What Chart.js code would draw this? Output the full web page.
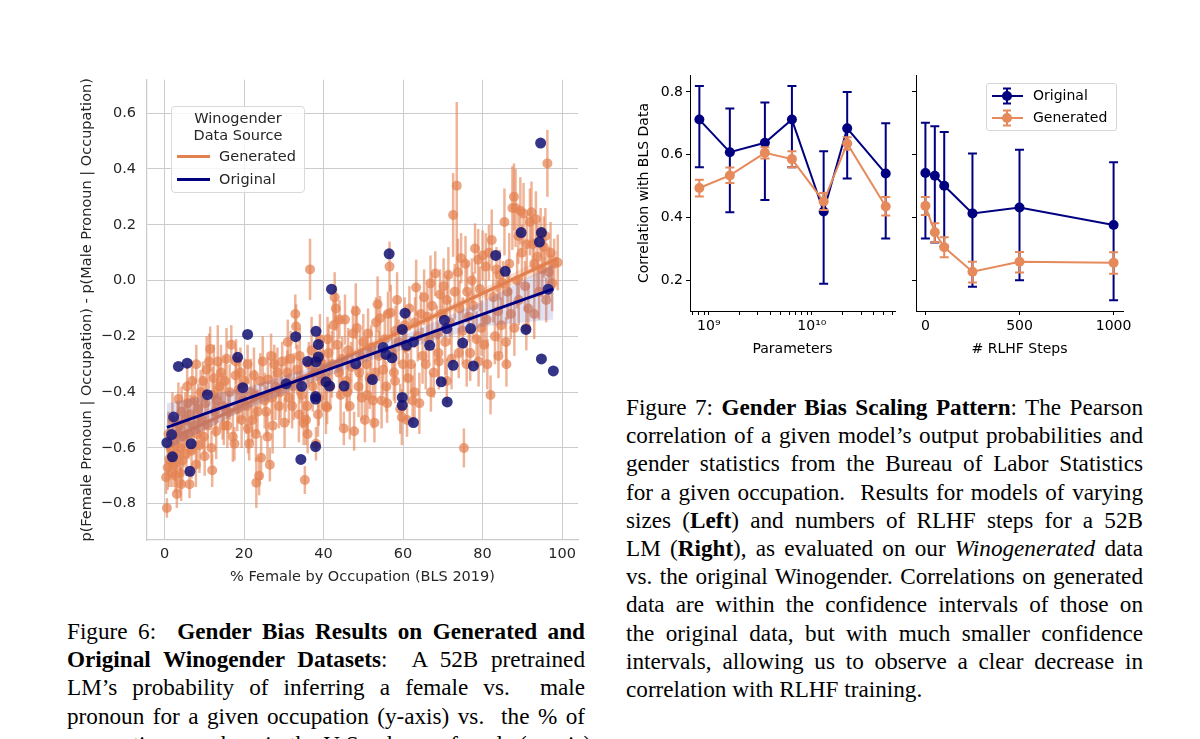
<!DOCTYPE html>
<html>
<head>
<meta charset="utf-8">
<script src="https://cdn.jsdelivr.net/npm/chart.js@4.4.1/dist/chart.umd.min.js"></script>
<style>
  html, body { margin: 0; padding: 0; width: 1200px; height: 739px; overflow: hidden; background: #fff; }
  canvas { position: absolute; }
  #bias { left: 60px; top: 60px; }
  #size { left: 620px; top: 60px; }
  #rlhf { left: 900px; top: 60px; }
  .legend { position: absolute; box-sizing: border-box; font-family: 'DejaVu Sans', sans-serif; }
  .legend span { position: absolute; white-space: nowrap; }
  #legBias { left: 171px; top: 106px; width: 134px; height: 87px; border: 1px solid #d9d9d9; border-radius: 4px;
             background: rgba(255,255,255,0.8); color: #262626; font-size: 14.5px; }
  #legBias .ttl { position: absolute; top: 3px; left: 0; width: 100%; text-align: center; line-height: 16.5px; }
  #legBias .swatch { position: absolute; left: 5px; width: 33px; height: 3px; }
  #legRlhf { left: 986px; top: 83px; width: 131px; height: 48px; border: 1px solid #d6d6d6; border-radius: 3px;
             background: rgba(255,255,255,0.8); color: #000; font-size: 14px; }
  #legRlhf svg { position: absolute; left: 4px; }
  .cap { position: absolute; font-family: 'Liberation Serif', serif; font-size: 23.2px; line-height: 28.2px; color: #000; }
  .cap div { text-align: justify; text-align-last: justify; white-space: nowrap; }
  .cap div.last { text-align-last: left; }
</style>
</head>
<body>
<canvas id="bias" width="540" height="540"></canvas>
<canvas id="size" width="280" height="310"></canvas>
<canvas id="rlhf" width="260" height="310"></canvas>

<div class="legend" id="legBias">
  <div class="ttl">Winogender<br>Data Source</div>
  <div class="swatch" style="top:48px; background:rgb(226,128,80);"></div>
  <span style="left:47px; top:41px;">Generated</span>
  <div class="swatch" style="top:71px; background:#000080;"></div>
  <span style="left:47px; top:64px;">Original</span>
</div>

<div class="legend" id="legRlhf">
  <svg width="34" height="20" style="top:2px;">
    <line x1="1" y1="10" x2="32" y2="10" stroke="#000080" stroke-width="2"/>
    <line x1="16" y1="2.5" x2="16" y2="17.5" stroke="#000080" stroke-width="2"/>
    <line x1="12" y1="2.5" x2="20" y2="2.5" stroke="#000080" stroke-width="2"/>
    <line x1="12" y1="17.5" x2="20" y2="17.5" stroke="#000080" stroke-width="2"/>
    <circle cx="16" cy="10" r="5" fill="#000080"/>
  </svg>
  <span style="left:46px; top:3px;">Original</span>
  <svg width="34" height="20" style="top:24px;">
    <line x1="1" y1="10" x2="32" y2="10" stroke="rgb(230,138,92)" stroke-width="2"/>
    <line x1="16" y1="2.5" x2="16" y2="17.5" stroke="rgb(230,138,92)" stroke-width="2"/>
    <line x1="12" y1="2.5" x2="20" y2="2.5" stroke="rgb(230,138,92)" stroke-width="2"/>
    <line x1="12" y1="17.5" x2="20" y2="17.5" stroke="rgb(230,138,92)" stroke-width="2"/>
    <circle cx="16" cy="10" r="5" fill="rgb(230,138,92)"/>
  </svg>
  <span style="left:46px; top:25px;">Generated</span>
</div>

<div class="cap" style="left:67px; top:617px; width:518px;">
  <div>Figure 6:&nbsp; <b>Gender Bias Results on Generated and</b></div>
  <div><b>Original Winogender Datasets</b>:&nbsp; A 52B pretrained</div>
  <div>LM’s probability of inferring a female vs.&nbsp; male</div>
  <div>pronoun for a given occupation (y-axis) vs.&nbsp; the % of</div>
  <div>occupation members in the U.S. who are female (x-axis)</div>
</div>

<div class="cap" style="left:626px; top:393px; width:517px;">
  <div>Figure 7: <b>Gender Bias Scaling Pattern</b>: The Pearson</div>
  <div>correlation of a given model’s output probabilities and</div>
  <div>gender statistics from the Bureau of Labor Statistics</div>
  <div>for a given occupation.&nbsp; Results for models of varying</div>
  <div>sizes (<b>Left</b>) and numbers of RLHF steps for a 52B</div>
  <div>LM (<b>Right</b>), as evaluated on our <i>Winogenerated</i> data</div>
  <div>vs. the original Winogender. Correlations on generated</div>
  <div>data are within the confidence intervals of those on</div>
  <div>the original data, but with much smaller confidence</div>
  <div>intervals, allowing us to observe a clear decrease in</div>
  <div class="last">correlation with RLHF training.</div>
</div>

<script>
// ---- Figure 6 : Generated (Winogenerated) occupations, % female vs pronoun bias, +/- error
var genPct = [
  0.6,0.4,0.8,1.2,1.5,1.8,2.2,2.5,2.8,3.0,3.3,3.5,3.6,3.9,4.0,4.3,4.5,4.8,1.0,2.0,4.2,3.1,
  5.2,5.5,5.8,6.0,6.3,6.5,6.8,7.0,7.3,7.6,7.9,8.2,8.5,8.8,9.1,9.4,9.7,5.7,8.0,9.9,
  10.3,10.6,10.9,11.2,11.5,11.8,12.1,12.4,12.7,13.0,13.4,13.8,14.2,14.6,14.9,10.1,12.0,13.2,
  15.2,15.6,16.0,16.4,16.8,17.2,17.6,17.9,18.3,18.7,19.1,19.4,19.8,15.8,18.0,
  20.2,20.6,21.0,21.3,21.7,22.1,22.5,22.8,23.1,23.4,23.8,24.1,24.3,24.7,20.9,23.0,
  25.2,25.6,26.0,26.5,26.8,27.2,27.6,27.9,28.4,28.8,29.2,29.6,25.9,27.0,
  30.2,30.5,30.9,31.3,31.7,32.1,32.5,32.9,33.1,33.4,33.8,34.2,34.6,35.0,35.3,31.0,34.0,
  35.6,35.9,36.3,36.6,37.0,37.3,37.7,38.1,38.4,38.8,39.1,39.5,39.8,36.0,38.6,
  40.2,40.6,40.9,41.3,41.7,42.1,42.5,42.8,43.1,43.5,43.9,44.3,44.7,45.1,41.0,44.0,
  45.4,45.8,46.2,46.6,47.0,47.4,47.7,48.1,48.4,48.8,49.2,49.6,50.0,46.0,49.0,
  50.4,50.8,51.2,51.6,52.0,52.4,52.8,53.2,53.6,53.9,54.2,54.6,55.0,51.0,53.0,
  55.4,55.8,56.2,56.6,56.9,57.3,57.7,58.1,58.5,58.9,59.3,59.7,60.0,56.0,58.0,
  60.4,60.8,61.2,61.6,62.0,62.4,62.9,63.3,63.7,64.1,64.5,64.9,61.0,63.0,
  65.3,65.7,66.1,66.5,66.9,67.3,67.7,68.1,68.5,68.9,69.3,69.7,67.0,69.0,
  70.2,70.6,71.0,71.4,71.8,72.2,72.6,73.0,73.5,73.8,74.2,74.6,75.0,75.3,71.0,74.0,
  75.7,76.1,76.5,76.9,77.3,77.7,78.1,78.5,78.9,79.3,79.7,80.0,76.0,79.0,
  80.4,80.8,81.2,81.6,82.0,82.3,82.7,83.1,83.5,83.9,84.3,84.7,85.1,81.0,84.0,
  85.5,85.9,86.3,86.7,87.1,87.5,87.9,88.3,88.7,89.1,89.5,89.9,86.0,88.0,89.0,
  90.3,90.7,91.1,91.5,91.9,92.3,92.6,93.0,93.4,93.8,94.2,94.6,95.0,91.0,93.0,
  95.4,95.8,96.3,96.7,97.1,97.5,98.0,98.9,96.0
];
var genDiff = [
  -0.815,-0.705,-0.67,-0.64,-0.60,-0.69,-0.58,-0.66,-0.70,-0.62,-0.55,-0.425,-0.52,-0.69,-0.60,-0.47,-0.645,-0.56,-0.55,-0.50,-0.73,-0.765,
  -0.50,-0.62,-0.44,-0.55,-0.73,-0.48,-0.61,-0.36,-0.52,-0.43,-0.66,-0.55,-0.46,-0.59,-0.40,-0.50,-0.36,-0.38,-0.30,-0.56,
  -0.44,-0.32,-0.52,-0.29,-0.245,-0.60,-0.41,-0.35,-0.47,-0.54,-0.29,-0.38,-0.33,-0.45,-0.52,-0.63,-0.68,-0.43,
  -0.36,-0.28,-0.47,-0.40,-0.23,-0.56,-0.585,-0.34,-0.46,-0.39,-0.33,-0.50,-0.43,-0.52,-0.29,
  -0.36,-0.45,-0.53,-0.585,-0.40,-0.50,-0.34,-0.41,-0.725,-0.47,-0.70,-0.36,-0.635,-0.29,-0.30,-0.55,
  -0.43,-0.47,-0.355,-0.66,-0.27,-0.52,-0.30,-0.38,-0.33,-0.45,-0.40,-0.29,-0.56,-0.42,
  -0.51,-0.37,-0.33,-0.42,-0.28,-0.45,-0.38,-0.12,-0.165,-0.32,-0.48,-0.36,-0.41,-0.51,-0.715,-0.22,-0.27,
  -0.50,-0.45,-0.30,0.04,-0.25,-0.38,-0.33,-0.585,-0.28,-0.42,-0.21,-0.36,-0.30,-0.55,-0.48,
  -0.34,-0.45,-0.455,-0.26,-0.38,-0.30,-0.16,-0.06,-0.10,-0.23,-0.33,-0.41,-0.28,-0.53,-0.21,-0.14,
  -0.14,-0.36,-0.25,-0.45,-0.31,-0.19,-0.54,-0.11,-0.17,-0.38,-0.27,-0.42,-0.22,-0.40,-0.33,
  -0.50,-0.30,-0.19,-0.35,-0.24,-0.43,-0.51,-0.15,-0.085,-0.27,-0.135,-0.43,-0.32,-0.41,-0.33,
  -0.21,-0.38,-0.12,0.05,-0.115,-0.26,-0.33,-0.18,-0.07,-0.22,-0.46,-0.49,-0.30,-0.44,-0.36,
  -0.16,-0.24,-0.35,-0.10,-0.30,-0.43,-0.40,-0.025,-0.20,-0.44,-0.12,-0.27,-0.50,-0.15,
  -0.06,-0.30,-0.13,-0.21,-0.01,-0.09,-0.33,0.025,-0.19,-0.26,-0.05,-0.12,-0.40,-0.29,
  -0.02,-0.22,-0.07,0.02,-0.15,-0.28,0.235,-0.04,0.34,0.03,-0.10,0.08,-0.18,-0.60,-0.36,-0.26,
  0.06,-0.04,-0.13,-0.26,0.00,-0.09,0.115,-0.21,0.075,-0.03,-0.17,0.09,-0.30,-0.29,
  -0.23,0.05,-0.30,0.10,-0.41,0.145,-0.06,-0.20,0.04,-0.11,0.02,-0.16,-0.01,-0.14,-0.27,
  0.21,-0.22,-0.04,0.06,-0.12,0.26,0.30,0.26,0.00,-0.07,0.25,0.10,-0.30,-0.17,0.16,
  0.24,-0.02,0.13,-0.10,0.21,0.245,0.13,0.06,0.22,0.085,-0.04,0.17,0.04,-0.17,-0.12,
  0.12,0.16,0.42,0.03,0.10,-0.01,0.06,0.065,-0.07
];
var genErr = [
  0.035,0.06,0.08,0.1,0.07,0.05,0.09,0.08,0.06,0.1,0.12,0.06,0.08,0.07,0.1,0.09,0.09,0.11,0.08,0.1,0.06,0.05,
  0.1,0.08,0.08,0.09,0.05,0.07,0.1,0.07,0.1,0.08,0.08,0.12,0.09,0.1,0.08,0.1,0.07,0.08,0.07,0.06,
  0.09,0.12,0.08,0.1,0.08,0.06,0.1,0.12,0.09,0.1,0.13,0.08,0.1,0.12,0.07,0.07,0.06,0.08,
  0.09,0.11,0.08,0.1,0.07,0.09,0.06,0.1,0.08,0.12,0.09,0.1,0.07,0.08,0.08,
  0.08,0.1,0.09,0.06,0.12,0.08,0.1,0.09,0.09,0.08,0.07,0.1,0.08,0.09,0.07,0.1,
  0.1,0.09,0.08,0.06,0.08,0.1,0.07,0.12,0.09,0.08,0.1,0.07,0.09,0.08,
  0.09,0.1,0.08,0.09,0.1,0.08,0.12,0.07,0.08,0.09,0.1,0.08,0.12,0.08,0.05,0.08,0.1,
  0.09,0.1,0.08,0.11,0.12,0.09,0.1,0.06,0.08,0.1,0.09,0.11,0.07,0.07,0.08,
  0.09,0.1,0.06,0.1,0.08,0.12,0.09,0.09,0.08,0.1,0.09,0.11,0.08,0.06,0.08,0.07,
  0.09,0.1,0.08,0.12,0.09,0.1,0.07,0.1,0.08,0.11,0.09,0.08,0.1,0.07,0.08,
  0.08,0.1,0.09,0.11,0.08,0.1,0.07,0.09,0.1,0.09,0.08,0.1,0.09,0.08,0.1,
  0.1,0.09,0.08,0.09,0.1,0.08,0.1,0.09,0.1,0.08,0.09,0.1,0.11,0.07,0.08,
  0.1,0.12,0.09,0.08,0.1,0.09,0.1,0.1,0.09,0.11,0.08,0.1,0.06,0.09,
  0.1,0.09,0.11,0.08,0.1,0.12,0.09,0.08,0.1,0.11,0.09,0.08,0.07,0.1,
  0.1,0.12,0.09,0.1,0.08,0.11,0.15,0.1,0.3,0.12,0.1,0.09,0.12,0.07,0.08,0.09,
  0.1,0.11,0.09,0.1,0.08,0.12,0.09,0.1,0.11,0.08,0.1,0.09,0.08,0.09,
  0.1,0.12,0.09,0.1,0.07,0.11,0.09,0.1,0.08,0.11,0.09,0.1,0.08,0.1,0.08,
  0.12,0.09,0.1,0.11,0.09,0.15,0.12,0.14,0.1,0.09,0.12,0.1,0.08,0.1,0.1,
  0.11,0.09,0.1,0.09,0.12,0.11,0.1,0.09,0.1,0.12,0.1,0.09,0.1,0.08,0.09,
  0.11,0.1,0.12,0.09,0.11,0.1,0.09,0.1,0.08
];

// Original Winogender occupations
var origPct = [3.5,5.7,20.9,18.4,10.8,19.7,2.3,1.8,0.6,2.0,6.7,6.4,30.6,33.0,34.5,34.3,36.0,38.1,38.7,38.1,
  38.7,38.0,38.0,38.0,40.6,41.5,42.0,45.2,48.1,52.3,55.0,55.7,56.5,57.2,59.8,60.5,60.9,62.6,59.8,59.8,
  62.6,66.7,70.4,71.0,69.6,71.1,72.6,75.0,77.0,77.7,83.3,85.7,89.7,90.9,94.6,94.8,94.3,94.8,96.5,97.8];
var origDiff = [-0.308,-0.296,-0.193,-0.275,-0.409,-0.384,-0.489,-0.552,-0.581,-0.632,-0.585,-0.684,-0.370,-0.201,-0.379,-0.641,-0.290,-0.182,-0.229,-0.291,
  -0.274,-0.416,-0.425,-0.595,-0.363,-0.378,-0.031,-0.378,-0.299,-0.355,-0.240,-0.265,0.096,-0.277,-0.175,-0.117,-0.232,-0.220,-0.419,-0.447,
  -0.509,-0.232,-0.142,-0.172,-0.363,-0.435,-0.304,-0.224,-0.172,-0.306,0.090,0.033,0.172,-0.175,0.493,0.172,0.138,-0.281,-0.031,-0.324];

// regression lines and their confidence bands
var genFitX = [0.5, 98.9], genFitY = [-0.575, 0.080];
var genBandX = [0.5, 25, 50, 75, 98.9];
var genBandHi = [-0.545, -0.398, -0.233, -0.066, 0.108];
var genBandLo = [-0.605, -0.428, -0.257, -0.092, 0.052];
var origFitX = [0.6, 97.8], origFitY = [-0.526, -0.030];
var origBandX = [0.6, 20, 40, 50, 60, 80, 97.8];
var origBandHi = [-0.440, -0.385, -0.298, -0.250, -0.196, -0.075, 0.058];
var origBandLo = [-0.605, -0.465, -0.348, -0.295, -0.248, -0.165, -0.140];

// ---- Figure 7 : correlation with BLS data
var sizeParams = [8.1e8, 1.6e9, 3.5e9, 6.4e9, 1.3e10, 2.2e10, 5.2e10];
var sizeOrig = [0.712, 0.608, 0.638, 0.712, 0.419, 0.684, 0.540];
var sizeOrigLo = [0.560, 0.417, 0.456, 0.560, 0.189, 0.524, 0.333];
var sizeOrigHi = [0.819, 0.747, 0.766, 0.819, 0.611, 0.800, 0.700];
var sizeGen = [0.494, 0.534, 0.606, 0.586, 0.451, 0.636, 0.435];
var sizeGenLo = [0.467, 0.510, 0.588, 0.560, 0.424, 0.616, 0.406];
var sizeGenHi = [0.520, 0.559, 0.624, 0.611, 0.478, 0.656, 0.465];

var rlhfSteps = [0, 50, 100, 250, 500, 1000];
var rlhfOrig = [0.542, 0.533, 0.501, 0.413, 0.432, 0.376];
var rlhfOrigLo = [0.333, 0.320, 0.310, 0.179, 0.200, 0.136];
var rlhfOrigHi = [0.702, 0.691, 0.672, 0.604, 0.616, 0.576];
var rlhfGen = [0.437, 0.353, 0.305, 0.227, 0.259, 0.256];
var rlhfGenLo = [0.408, 0.321, 0.273, 0.193, 0.225, 0.221];
var rlhfGenHi = [0.465, 0.382, 0.337, 0.259, 0.290, 0.289];

// tick positions (minor log ticks get no label)
var paramTicks = [7e8, 8e8, 9e8, 1e9, 2e9, 3e9, 4e9, 5e9, 6e9, 7e9, 8e9, 9e9, 1e10, 2e10, 3e10, 4e10, 5e10, 6e10];
var paramLabels = { 1e9: '10\u2079', 1e10: '10\u00b9\u2070' };
var stepTicks = [0, 500, 1000];
var corrTicks = [0.2, 0.4, 0.6, 0.8];

Chart.defaults.font.family = "'DejaVu Sans', sans-serif";

function pts(xs, ys) {
  return xs.map(function (x, i) { return { x: x, y: ys[i] }; });
}
function minus(v) {
  var r = Math.round(v * 10) / 10;
  return (r < 0 ? '\u2212' : '') + Math.abs(r).toFixed(1);
}
function fixedTicks(list) {
  return function (s) { s.ticks = list.map(function (v) { return { value: v }; }); };
}

// vertical error bars, drawn just under the dataset that owns them
var errorBars = {
  id: 'errorBars',
  beforeDatasetDraw: function (chart, args) {
    var ds = chart.data.datasets[args.index];
    if (!ds.errLo) return;
    var ctx = chart.ctx;
    var ys = chart.scales[args.meta.yAxisID];
    ctx.save();
    ctx.strokeStyle = ds.errColor;
    ctx.lineWidth = ds.errWidth;
    args.meta.data.forEach(function (p, i) {
      var top = ys.getPixelForValue(ds.errHi[i]);
      var bot = ys.getPixelForValue(ds.errLo[i]);
      ctx.beginPath();
      ctx.moveTo(p.x, top);
      ctx.lineTo(p.x, bot);
      if (ds.cap) {
        ctx.moveTo(p.x - ds.cap, top); ctx.lineTo(p.x + ds.cap, top);
        ctx.moveTo(p.x - ds.cap, bot); ctx.lineTo(p.x + ds.cap, bot);
      }
      ctx.stroke();
    });
    ctx.restore();
  }
};

var ORANGE = 'rgb(226,128,80)';
var NAVY = '#000080';

// ===== Figure 6 (seaborn look) =====
var seaText = '#262626';
var seaGrid = '#cccccc';
new Chart(document.getElementById('bias').getContext('2d'), {
  type: 'scatter',
  data: {
    datasets: [
      { type: 'line', data: pts(origFitX, origFitY), borderColor: NAVY, borderWidth: 3, pointRadius: 0, fill: false },
      { type: 'line', data: pts(origBandX, origBandHi), borderWidth: 0, borderColor: 'rgba(0,0,0,0)', pointRadius: 0, fill: false },
      { type: 'line', data: pts(origBandX, origBandLo), borderWidth: 0, borderColor: 'rgba(0,0,0,0)', pointRadius: 0,
        fill: '-1', backgroundColor: 'rgba(70,80,175,0.17)' },
      { data: pts(origPct, origDiff), pointRadius: 5.5, pointBorderWidth: 0, backgroundColor: 'rgba(18,18,115,0.85)' },
      { type: 'line', data: pts(genFitX, genFitY), borderColor: ORANGE, borderWidth: 3.5, pointRadius: 0, fill: false },
      { type: 'line', data: pts(genBandX, genBandHi), borderWidth: 0, borderColor: 'rgba(0,0,0,0)', pointRadius: 0, fill: false },
      { type: 'line', data: pts(genBandX, genBandLo), borderWidth: 0, borderColor: 'rgba(0,0,0,0)', pointRadius: 0,
        fill: '-1', backgroundColor: 'rgba(226,128,80,0.25)' },
      { data: pts(genPct, genDiff), pointRadius: 5, pointBorderWidth: 0, backgroundColor: 'rgba(228,130,82,0.72)',
        errLo: genDiff.map(function (v, i) { return v - genErr[i]; }),
        errHi: genDiff.map(function (v, i) { return v + genErr[i]; }),
        errColor: 'rgba(228,130,82,0.6)', errWidth: 2.5 }
    ]
  },
  options: {
    responsive: false,
    animation: false,
    events: [],
    layout: { padding: { left: 0, right: 22, top: 16, bottom: 0 } },
    plugins: { legend: { display: false }, tooltip: { enabled: false } },
    scales: {
      x: {
        type: 'linear', min: -4.4, max: 104,
        afterFit: function (s) { s.height = 60; },
        ticks: { stepSize: 20, includeBounds: false, color: seaText, font: { size: 14.5 }, padding: 6, maxRotation: 0 },
        grid: { color: seaGrid, drawTicks: false },
        border: { color: seaGrid, width: 1.25 },
        title: { display: true, text: '% Female by Occupation (BLS 2019)', color: seaText, font: { size: 14.5 },
                 padding: { top: 0, bottom: 14 } }
      },
      y: {
        min: -0.93, max: 0.72,
        afterFit: function (s) { s.width = 87; },
        ticks: { stepSize: 0.2, includeBounds: false, color: seaText, font: { size: 14.5 }, padding: 11,
                 callback: function (v) { return minus(v); } },
        grid: { color: seaGrid, drawTicks: false },
        border: { color: seaGrid, width: 1.25 },
        title: { display: true, text: 'p(Female Pronoun | Occupation) - p(Male Pronoun | Occupation)', color: seaText,
                 font: { size: 14.5 }, padding: { top: 19, bottom: 0 } }
      }
    }
  },
  plugins: [errorBars]
});

// ===== Figure 7 (matplotlib look) =====
function mplAxis(extra) {
  var base = {
    grid: { drawOnChartArea: false, drawTicks: true, tickLength: 4, tickColor: '#000', tickWidth: 1 },
    border: { color: '#000', width: 1 }
  };
  return Object.assign(base, extra);
}
function errSeries(xs, ys, lo, hi, color) {
  return {
    type: 'line', data: pts(xs, ys), borderColor: color, borderWidth: 2,
    pointRadius: 5, pointBorderWidth: 0, pointBackgroundColor: color,
    errLo: lo, errHi: hi, errColor: color, errWidth: 2, cap: 4.5
  };
}
var GEN7 = 'rgb(230,138,92)';
var mplTicks = { color: '#000', font: { size: 14 }, padding: 3, autoSkip: false, maxRotation: 0 };

new Chart(document.getElementById('size').getContext('2d'), {
  type: 'line',
  data: {
    datasets: [
      errSeries(sizeParams, sizeGen, sizeGenLo, sizeGenHi, GEN7),
      errSeries(sizeParams, sizeOrig, sizeOrigLo, sizeOrigHi, NAVY)
    ]
  },
  options: {
    responsive: false, animation: false, events: [],
    layout: { padding: { left: 0, right: 3, top: 15, bottom: 0 } },
    plugins: { legend: { display: false }, tooltip: { enabled: false } },
    scales: {
      x: mplAxis({
        type: 'logarithmic', min: 6.57e8, max: 6.4e10,
        afterBuildTicks: fixedTicks(paramTicks),
        afterFit: function (s) { s.height = 59; },
        ticks: Object.assign({}, mplTicks, { callback: function (v) { return paramLabels[v] || ''; } }),
        title: { display: true, text: 'Parameters', color: '#000', font: { size: 14 }, padding: { top: 0, bottom: 12.5 } }
      }),
      y: mplAxis({
        type: 'linear', min: 0.102, max: 0.854,
        afterBuildTicks: fixedTicks(corrTicks),
        afterFit: function (s) { s.width = 70; },
        ticks: Object.assign({}, mplTicks, { callback: function (v) { return v.toFixed(1); } }),
        title: { display: true, text: 'Correlation with BLS Data', color: '#000', font: { size: 14 }, padding: { top: 15.5, bottom: 0 } }
      })
    }
  },
  plugins: [errorBars]
});

new Chart(document.getElementById('rlhf').getContext('2d'), {
  type: 'line',
  data: {
    datasets: [
      errSeries(rlhfSteps, rlhfGen, rlhfGenLo, rlhfGenHi, GEN7),
      errSeries(rlhfSteps, rlhfOrig, rlhfOrigLo, rlhfOrigHi, NAVY)
    ]
  },
  options: {
    responsive: false, animation: false, events: [],
    layout: { padding: { left: 0, right: 37, top: 15, bottom: 0 } },
    plugins: { legend: { display: false }, tooltip: { enabled: false } },
    scales: {
      x: mplAxis({
        type: 'linear', min: -50, max: 1050,
        afterBuildTicks: fixedTicks(stepTicks),
        afterFit: function (s) { s.height = 59; },
        ticks: Object.assign({}, mplTicks, { callback: function (v) { return String(v); } }),
        title: { display: true, text: '# RLHF Steps', color: '#000', font: { size: 14 }, padding: { top: 0, bottom: 12.5 } }
      }),
      y: mplAxis({
        type: 'linear', min: 0.102, max: 0.854,
        afterBuildTicks: fixedTicks(corrTicks),
        afterFit: function (s) { s.width = 16; },
        ticks: Object.assign({}, mplTicks, { padding: 0, callback: function () { return ''; } })
      })
    }
  },
  plugins: [errorBars]
});
</script>
</body>
</html>
